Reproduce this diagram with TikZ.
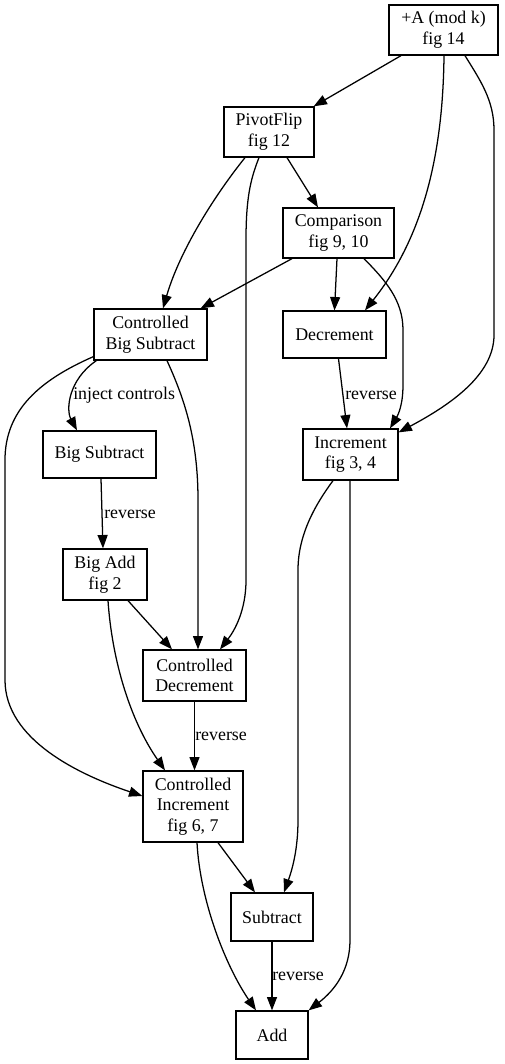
\documentclass[tikz,border=0pt]{standalone}
\usepackage{fontspec}
\setmainfont{Liberation Serif}
\usetikzlibrary{arrows.meta,calc}
\newcommand\figfont{\fontsize{13.4}{15.5}\selectfont}
\begin{document}
\begin{tikzpicture}[x=0.75pt,y=-0.75pt,
  box/.style={draw,line width=0.95pt,inner sep=0pt,align=center,font=\figfont},
  edge/.style={line width=0.95pt,-{Triangle[length=10pt,width=7.5pt]}},
  lbl/.style={anchor=west,inner sep=0pt,font=\figfont}]
\useasboundingbox (0,0) rectangle (504,1064);
\fill[white] (0,0) rectangle (504,1064);
% nodes
\node[box,minimum width=81.75pt,minimum height=37.5pt] (plusA) at (443.5,30) {+A (mod k)\\fig 14};
\node[box,minimum width=67.5pt,minimum height=37.5pt] (pivot) at (269,132) {PivotFlip\\fig 12};
\node[box,minimum width=83.25pt,minimum height=37.5pt] (comp) at (338.5,233) {Comparison\\fig 9, 10};
\node[box,minimum width=84.75pt,minimum height=38.25pt] (cbs) at (150.5,334.5) {Controlled\\Big Subtract};
\node[box,minimum width=77.25pt,minimum height=35.25pt] (dec) at (334.5,334.5) {Decrement};
\node[box,minimum width=71.25pt,minimum height=38.25pt] (inc) at (350.5,454.5) {Increment\\fig 3, 4};
\node[box,minimum width=84.75pt,minimum height=35.25pt] (bs) at (99.5,454.5) {Big Subtract};
\node[box,minimum width=63pt,minimum height=38.25pt] (badd) at (105,574.5) {Big Add\\fig 2};
\node[box,minimum width=77.25pt,minimum height=38.25pt] (cdec) at (194.5,675.5) {Controlled\\Decrement};
\node[box,minimum width=75pt,minimum height=53.25pt] (cinc) at (193,806.5) {Controlled\\Increment\\fig 6, 7};
\node[box,minimum width=61.5pt,minimum height=36pt] (sub) at (272,917) {Subtract};
\node[box,minimum width=54pt,minimum height=36pt] (add) at (272,1035) {Add};
% edges
\draw[edge] ($(plusA.south)+(-42.5,0)$) -- ($(pivot.north east)+(-1,0)$);
\draw[edge] ($(plusA.south)+(0.5,0)$) .. controls (443,150) and (425,235) .. ($(dec.north)+(30.5,0)$);
\draw[edge] ($(plusA.south)+(21.5,0)$) .. controls (480,80) and (494,100) .. (494,130)
  -- (494,335) .. controls (494,375) and (450,405) .. ($(inc.north east)+(0,4)$);
\draw[edge] ($(pivot.south)+(18,0)$) -- ($(comp.north)+(-20.5,0)$);
\draw[edge] ($(pivot.south)+(-24,0)$) .. controls (215,195) and (180,250) .. ($(cbs.north)+(12.5,0)$);
\draw[edge] ($(pivot.south)+(-10,0)$) .. controls (250,180) and (246,200) .. (246,240)
  -- (246,580) .. controls (246,610) and (235,630) .. ($(cdec.north)+(25.5,0)$);
\draw[edge] ($(comp.south)+(-46.5,0)$) -- ($(cbs.north east)+(-7,0)$);
\draw[edge] ($(comp.south)+(-1.5,0)$) -- (dec.north);
\draw[edge] ($(comp.south)+(25.5,0)$) .. controls (385,280) and (403,300) .. (403,330)
  -- (403,385) .. controls (403,405) and (398,415) .. ($(inc.north)+(39.5,0)$);
\draw[edge] ($(dec.south)+(4,0)$) -- ($(inc.north)+(-3.5,0)$);
\draw[edge] ($(cbs.south west)+(3,0)$) .. controls (68,380) and (66,410) .. ($(bs.north)+(-22.5,0)$);
\draw[edge] ($(cbs.south west)+(0,-4)$) .. controls (40,380) and (5,410) .. (5,460)
  -- (5,680) .. controls (5,740) and (80,775) .. ($(cinc.west)+(0,-10.5)$);
\draw[edge] ($(cbs.south)+(16.5,0)$) .. controls (185,400) and (198,440) .. (198,500)
  -- ($(cdec.north)+(3.5,0)$);
\draw[edge] ($(bs.south)+(1.5,0)$) -- ($(badd.north)+(-2,0)$);
\draw[edge] ($(badd.south)+(23,0)$) -- ($(cdec.north)+(-22.5,0)$);
\draw[edge] ($(badd.south)+(3,0)$) .. controls (112,660) and (130,720) .. ($(cinc.north)+(-28,0)$);
\draw[edge] (cdec.south) -- ($(cinc.north)+(1.5,0)$);
\draw[edge] ($(inc.south)+(-17.5,0)$) .. controls (315,505) and (298,535) .. (298,570)
  -- (298,820) .. controls (298,850) and (292,870) .. ($(sub.north)+(12,0)$);
\draw[edge] ($(inc.south)+(-0.5,0)$) -- (350,940) .. controls (350,970) and (335,990) .. (add.north east);
\draw[edge] ($(cinc.south)+(25,0)$) -- ($(sub.north)+(-17,0)$);
\draw[edge] ($(cinc.south)+(4,0)$) .. controls (200,900) and (225,965) .. ($(add.north)+(-16,0)$);
\draw[edge] (sub.south) -- (add.north);
% labels
\node[lbl] (l1) at (73,395) {inject controls};
\node[lbl] (l2) at (345,395) {reverse};
\node[lbl] (l3) at (104,514) {reverse};
\node[lbl] (l4) at (195,736) {reverse};
\node[lbl] (l5) at (272,976) {reverse};
\end{tikzpicture}
\end{document}
